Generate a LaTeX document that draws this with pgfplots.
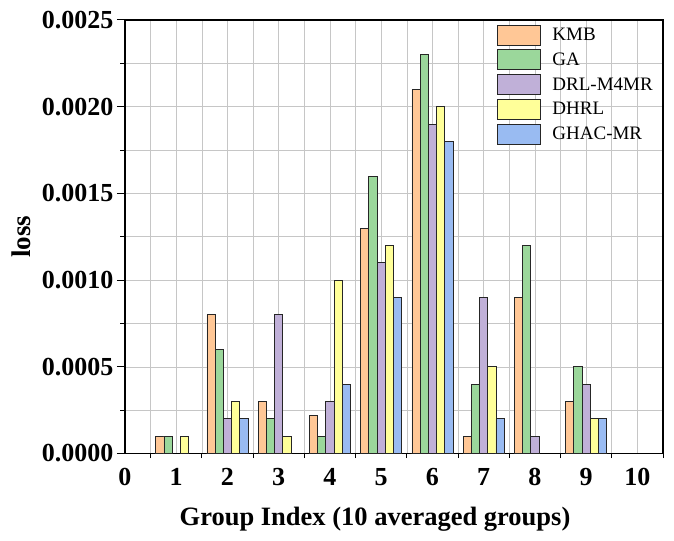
\documentclass[border=0pt]{standalone}
\usepackage{fontspec}
\setmainfont{Liberation Serif}
\usepackage{pgfplots}
\pgfplotsset{compat=1.18}
\definecolor{cKMB}{HTML}{FFC796}
\definecolor{cGA}{HTML}{9BD79B}
\definecolor{cDRL}{HTML}{C0B0D8}
\definecolor{cDHRL}{HTML}{FFFF99}
\definecolor{cGHAC}{HTML}{99BBF2}
\begin{document}
\begin{tikzpicture}
\path[use as bounding box] (-125pt,-87pt) rectangle (549pt,453.5pt);
\begin{axis}[
  scale only axis,
  width=538pt, height=433.5pt,
  xmin=0, xmax=10.5,
  ymin=0, ymax=0.0025,
  ybar=0pt, bar width=0.16,
  axis line style={line width=1.2pt},
  xtick={0,...,10},
  minor xtick={0.5,1.5,...,10.5},
  major x tick style={draw=none},
  minor x tick style={black, line width=1pt},
  ytick={0,0.0005,0.001,0.0015,0.002,0.0025},
  minor ytick={0.00025,0.00075,0.00125,0.00175,0.00225},
  major tick length=8pt, minor tick length=4.5pt,
  tick align=outside,
  xtick pos=bottom, ytick pos=left,
  tick style={black, line width=1pt},
  grid=both,
  major grid style={gray!45, line width=0.6pt},
  minor grid style={gray!45, line width=0.6pt},
  scaled y ticks=false,
  /pgf/number format/assume math mode=true,
  yticklabel style={/pgf/number format/fixed, /pgf/number format/fixed zerofill, /pgf/number format/precision=4},
  tick label style={font=\bfseries\fontsize{26}{26}\selectfont},
  xticklabel style={yshift=-3pt},
  xlabel={Group Index (10 averaged groups)},
  ylabel={loss},
  xlabel style={font=\bfseries\fontsize{26.5}{26.5}\selectfont, xshift=-19pt, yshift=-15pt},
  ylabel style={font=\bfseries\fontsize{27}{27}\selectfont, yshift=4pt},
  legend cell align=left,
  legend image code/.code={\draw[#1] (0pt,-10pt) rectangle (43pt,10pt);},
  legend style={at={(rel axis cs:0.985,0.99)}, anchor=north east, draw=none, fill=none,
    font=\fontsize{19}{19}\selectfont, inner sep=0pt, row sep=4pt, column sep=10pt},
  every axis plot/.append style={draw=black!85, line width=0.8pt},
]
\addplot[fill=cKMB] coordinates {(1,0.0001) (2,0.0008) (3,0.0003) (4,0.00022) (5,0.0013) (6,0.0021) (7,0.0001) (8,0.0009) (9,0.0003)};
\addplot[fill=cGA] coordinates {(1,0.0001) (2,0.0006) (3,0.0002) (4,0.0001) (5,0.0016) (6,0.0023) (7,0.0004) (8,0.0012) (9,0.0005)};
\addplot[fill=cDRL] coordinates {(2,0.0002) (3,0.0008) (4,0.0003) (5,0.0011) (6,0.0019) (7,0.0009) (8,0.0001) (9,0.0004)};
\addplot[fill=cDHRL] coordinates {(1,0.0001) (2,0.0003) (3,0.0001) (4,0.001) (5,0.0012) (6,0.002) (7,0.0005) (9,0.0002)};
\addplot[fill=cGHAC] coordinates {(2,0.0002) (4,0.0004) (5,0.0009) (6,0.0018) (7,0.0002) (9,0.0002)};
\legend{KMB,GA,DRL-M4MR,DHRL,GHAC-MR}
\end{axis}
\end{tikzpicture}
\end{document}
